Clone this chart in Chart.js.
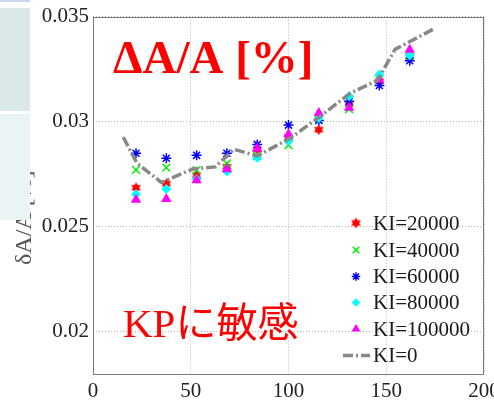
<!DOCTYPE html>
<html>
<head>
<meta charset="utf-8">
<script src="https://cdn.jsdelivr.net/npm/chart.js@4/dist/chart.umd.min.js"></script>
<style>
  html, body { margin: 0; padding: 0; background: #fff; overflow: hidden; }
  #wrap { position: relative; width: 494px; height: 400px; overflow: hidden; }
  canvas { display: block; }
</style>
</head>
<body>
<div id="wrap"><canvas id="kiChart" width="520" height="400"></canvas></div>
<script>
// KP values shared by all KI series
const kpValues = [22, 37.5, 53, 68.5, 84, 100, 115.5, 131, 146.5, 162];

const ki20000 = [0.02686, 0.02705, 0.02745, 0.02786, 0.02868, 0.02925, 0.02962, 0.03085, 0.03192, 0.0331];
const ki40000 = [0.02771, 0.02782, 0.0277, 0.02802, 0.02837, 0.02889, 0.0301, 0.0306, 0.032, 0.0331];
const ki60000 = [0.0285, 0.02826, 0.0284, 0.0285, 0.02892, 0.02984, 0.03006, 0.03097, 0.03172, 0.0329];
const ki80000 = [0.02655, 0.0268, 0.02727, 0.02763, 0.02829, 0.02908, 0.03018, 0.03121, 0.03224, 0.03315];
const ki100000 = [0.02629, 0.02632, 0.02722, 0.02774, 0.02873, 0.0294, 0.03042, 0.03066, 0.032, 0.03342];

// KI=0 curve
const ki0X = [15.5, 22.4, 35, 51, 62.5, 72, 84, 101, 115, 131.5, 145.5, 154.5, 174];
const ki0Y = [0.02926, 0.02804, 0.02711, 0.02775, 0.02785, 0.02869, 0.02837, 0.02922, 0.03017, 0.03135, 0.03197, 0.03344, 0.0344];

const xTicks = [0, 50, 100, 150, 200];
const yTicks = [0.02, 0.025, 0.03, 0.035];
const seriesLabels = ['KI=20000', 'KI=40000', 'KI=60000', 'KI=80000', 'KI=100000', 'KI=0'];

function hexagram(color, r) {
  const size = Math.ceil(r * 2 + 2);
  const c = document.createElement('canvas');
  c.width = size; c.height = size;
  const g = c.getContext('2d');
  const cx = size / 2, cy = size / 2;
  g.fillStyle = color;
  [-Math.PI / 2, Math.PI / 2].forEach(a0 => {
    g.beginPath();
    for (let k = 0; k < 3; k++) {
      const a = a0 + k * 2 * Math.PI / 3;
      g.lineTo(cx + r * Math.cos(a), cy + r * Math.sin(a));
    }
    g.closePath();
    g.fill();
  });
  return c;
}

const toPoints = (xs, ys) => xs.map((x, i) => ({ x: x, y: ys[i] }));
const serif = '"Liberation Serif", "Times New Roman", serif';

const datasets = [
  { label: seriesLabels[0], data: toPoints(kpValues, ki20000), pointStyle: hexagram('#ff0000', 5.5),
    pointRadius: 5, backgroundColor: '#ff0000', borderColor: '#ff0000', pointBorderWidth: 0 },
  { label: seriesLabels[1], data: toPoints(kpValues, ki40000), pointStyle: 'crossRot',
    pointRadius: 5.5, backgroundColor: '#00ee00', borderColor: '#00ee00', pointBorderWidth: 1.5 },
  { label: seriesLabels[2], data: toPoints(kpValues, ki60000), pointStyle: 'star',
    pointRadius: 5, backgroundColor: '#0000ff', borderColor: '#0000ff', pointBorderWidth: 1.5 },
  { label: seriesLabels[3], data: toPoints(kpValues, ki80000), pointStyle: 'rectRot',
    pointRadius: 5, backgroundColor: '#00ffff', borderColor: '#00ffff', pointBorderWidth: 0 },
  { label: seriesLabels[4], data: toPoints(kpValues, ki100000), pointStyle: 'triangle',
    pointRadius: 6, backgroundColor: '#ff00ff', borderColor: '#ff00ff', pointBorderWidth: 0 },
  { label: seriesLabels[5], data: toPoints(ki0X, ki0Y), showLine: true, pointRadius: 0,
    borderColor: '#888888', borderWidth: 3.5, borderDash: [10, 3, 2, 3], fill: false, tension: 0 }
];
// later series are painted over earlier ones
datasets.forEach((d, i) => { d.order = datasets.length - i; });

const decor = {
  id: 'decor',
  afterDraw(chart) {
    const ctx = chart.ctx;
    const a = chart.chartArea;
    ctx.save();

    // axes frame
    ctx.strokeStyle = '#7a7a7a';
    ctx.lineWidth = 1;
    ctx.strokeRect(Math.round(a.left) + 0.5, Math.round(a.top) + 0.5,
      Math.round(a.right - a.left) - 1, Math.round(a.bottom - a.top));

    // annotations
    ctx.fillStyle = '#ff0000';
    ctx.textBaseline = 'alphabetic';
    ctx.textAlign = 'left';
    ctx.font = 'bold 47px ' + serif;
    ctx.fillText('ΔA/A [%]', 113, 73);
    ctx.font = '41px "Liberation Serif", "Noto Sans CJK JP", serif';
    ctx.fillText('KPに敏感', 123, 337);

    // legend
    const rowY = [223, 250, 276.5, 302.5, 329, 355.5];
    const mx = 356, tx = 373;
    ctx.font = '21px ' + serif;
    chart.data.datasets.forEach((ds, i) => {
      const y = rowY[i];
      if (ds.showLine) {
        ctx.save();
        ctx.strokeStyle = ds.borderColor;
        ctx.lineWidth = ds.borderWidth;
        ctx.setLineDash(ds.borderDash);
        ctx.beginPath();
        ctx.moveTo(343, y);
        ctx.lineTo(370, y);
        ctx.stroke();
        ctx.restore();
      } else {
        ctx.save();
        ctx.fillStyle = ds.backgroundColor;
        ctx.strokeStyle = ds.borderColor;
        ctx.lineWidth = ds.pointBorderWidth;
        Chart.helpers.drawPoint(ctx, {
          pointStyle: ds.pointStyle, radius: ds.pointRadius * 0.85,
          borderWidth: ds.pointBorderWidth, rotation: 0
        }, mx, y);
        ctx.restore();
      }
      ctx.fillStyle = '#1a1a1a';
      ctx.textBaseline = 'middle';
      ctx.fillText(ds.label, tx, y + 1);
    });

    // y axis title, partly hidden by the side panels
    ctx.save();
    ctx.translate(31, 265);
    ctx.rotate(-Math.PI / 2);
    ctx.font = '24px ' + serif;
    ctx.fillStyle = '#555';
    ctx.textBaseline = 'alphabetic';
    ctx.fillText('δA/A [%]', 0, 0);
    ctx.restore();

    ctx.fillStyle = '#c9d8ec';
    ctx.fillRect(0, 0, 30, 2);
    ctx.fillStyle = '#dbe8e8';
    ctx.fillRect(0, 8, 30, 103);
    ctx.fillStyle = '#eaf4f4';
    ctx.fillRect(0, 114, 30, 106);

    ctx.restore();
  }
};

const tickFont = { family: serif, size: 21 };

new Chart(document.getElementById('kiChart').getContext('2d'), {
  type: 'scatter',
  data: { datasets: datasets },
  options: {
    responsive: false,
    animation: false,
    layout: { padding: { left: 33, right: 36, top: 15, bottom: 0 } },
    plugins: { legend: { display: false }, tooltip: { enabled: false } },
    scales: {
      x: {
        type: 'linear', min: 0, max: 200,
        afterBuildTicks: s => { s.ticks = xTicks.map(v => ({ value: v })); },
        afterFit: s => { s.height = 26; },
        grid: { color: '#b8b8b8', lineWidth: 1, drawTicks: false },
        border: { display: false, dash: [1, 2] },
        ticks: { padding: 5, color: '#222', font: tickFont, maxRotation: 0, autoSkip: false,
          callback: v => String(v) }
      },
      y: {
        type: 'linear', min: 0.018, max: 0.035,
        afterBuildTicks: s => { s.ticks = yTicks.map(v => ({ value: v })); },
        afterFit: s => { s.width = 60; },
        grid: { color: '#b8b8b8', lineWidth: 1, drawTicks: false },
        border: { display: false, dash: [1, 2] },
        ticks: { padding: 4, color: '#222', font: tickFont, autoSkip: false,
          callback: v => String(v) }
      }
    }
  },
  plugins: [decor]
});
</script>
</body>
</html>
